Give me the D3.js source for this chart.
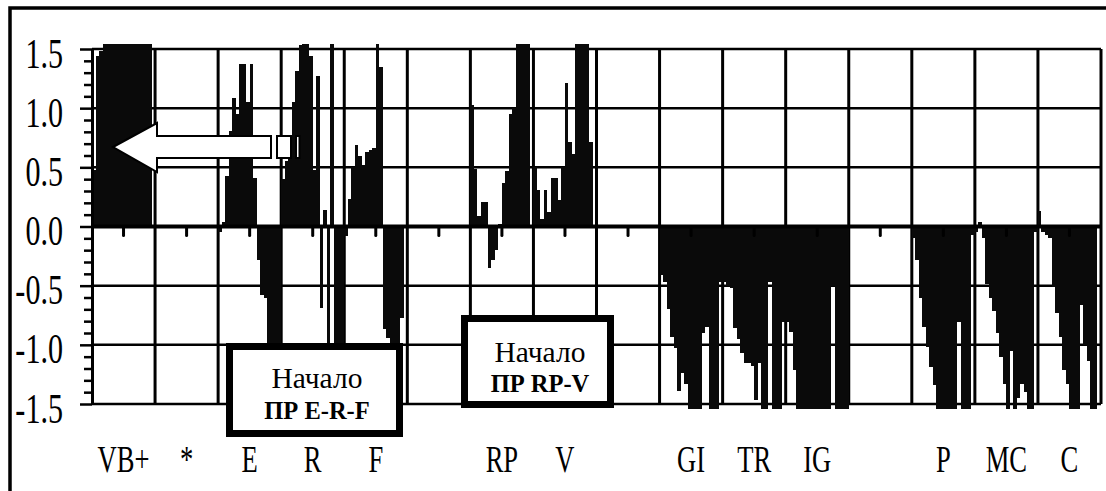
<!DOCTYPE html>
<html><head><meta charset="utf-8">
<script src="https://cdn.jsdelivr.net/npm/d3@7"></script>
<style>html,body{margin:0;padding:0;background:#fff;}svg{display:block;}
svg text{font-family:"Liberation Serif","Times New Roman",Times,serif;}</style>
</head><body>
<svg id="chart" width="1106" height="491"></svg>
<script>
// ---- data ----
const categories = ["VB+", "*", "E", "R", "F", "", "RP", "V", "", "GI", "TR", "IG", "", "P", "MC", "C"];
const yTickValues = [1.5, 1.0, 0.5, 0.0, -0.5, -1.0, -1.5];
const vbPlus = [0.48, 1.44, 1.48, 1.55, 1.55, 1.55, 1.55, 1.55, 1.55, 1.55, 1.55, 1.55, 1.55, 1.55, 1.55, 1.55, 1.55, 0];
const star   = [0, 0, 0, 0, 0, 0, 0, 0, 0, 0, 0, 0, 0, 0, 0, 0, 0, 0];
const E      = [-0.05, 0.04, 0.43, 0.81, 1.09, 0.95, 1.37, 1.37, 1.05, 1.37, 0.41, -0.28, -0.58, -0.6, -1.1, -1.55, -1.55, -1.3];
const R      = [0.4, 0.55, 0.6, 1.05, 1.31, 1.53, 1.55, 1.55, 1.44, 0.48, 1.27, -0.69, 0.14, -1.55, 1.55, -1.55, -1.2, -1.55];
const F      = [-0.08, 0.23, 0.5, 0.69, 0.6, 0.52, 0.63, 0.65, 0.66, 1.55, 1.35, -0.87, -0.94, -1.2, -1.3, -1.1, -0.77, 0];
const gapA   = [0, 0, 0, 0, 0, 0, 0, 0, 0, 0, 0, 0, 0, 0, 0, 0, 0, 0];
const RP     = [1.03, 0.49, 0.09, 0.21, 0.21, -0.35, -0.28, -0.2, 0.02, 0.37, 0.47, 0.95, 1.0, 1.55, 1.55, 1.55, 1.55, 0];
const V      = [0.5, 0.31, 0.06, 0.31, 0.12, 0.41, 0.41, 0.22, 0.5, 1.21, 0.71, 0.61, 1.55, 1.55, 1.55, 1.55, 0.71, 0];
const gapB   = [0, 0, 0, 0, 0, 0, 0, 0, 0, 0, 0, 0, 0, 0, 0, 0, 0, 0];
const GI     = [-0.41, -0.47, -0.7, -0.93, -1.03, -1.39, -1.24, -1.33, -1.55, -1.55, -1.55, -1.55, -0.9, -0.85, -1.55, -1.55, -1.55, -0.47];
const TR     = [-0.47, -0.5, -0.52, -0.86, -0.95, -1.07, -1.15, -1.15, -1.18, -1.47, -1.15, -1.55, -1.55, -0.47, -1.55, -1.55, -1.55, -0.81];
const IG     = [-0.81, -0.89, -1.21, -1.55, -1.55, -1.55, -1.55, -1.55, -1.55, -1.55, -1.55, -1.55, -1.55, -0.5, -1.55, -1.55, -1.55, -1.55];
const gapC   = [0, 0, 0, 0, 0, 0, 0, 0, 0, 0, 0, 0, 0, 0, 0, 0, 0, 0];
const P      = [-0.1, -0.28, -0.6, -0.85, -1.02, -1.19, -1.34, -1.55, -1.55, -1.55, -1.55, -1.55, -1.55, -0.81, -1.55, -1.55, -1.55, -0.07];
const MC     = [-0.05, 0.04, -0.1, -0.49, -0.6, -0.71, -0.9, -1.1, -1.33, -1.55, -1.05, -1.55, -1.45, -1.33, -1.4, -1.55, -1.55, -0.05];
const C      = [0.13, -0.05, -0.07, -0.1, -0.51, -0.73, -0.93, -1.21, -1.33, -1.55, -1.55, -1.55, -0.66, -1.0, -1.14, -1.55, -1.55, 0];
const seriesValues = [vbPlus, star, E, R, F, gapA, RP, V, gapB, GI, TR, IG, gapC, P, MC, C];

// ---- layout ----
const plot = {left: 92, right: 1101, top: 49, bottom: 404};
const serif = '"Liberation Serif","Times New Roman",Times,serif';
const squeeze = 0.7;
const svg = d3.select("#chart");

const x = d3.scaleBand().domain(d3.range(categories.length)).range([plot.left, plot.right]).padding(0);
const xi = d3.scaleBand().domain(d3.range(vbPlus.length)).range([0, x.bandwidth()]).padding(0);
const y = d3.scaleLinear().domain([-1.5, 1.5]).range([plot.bottom, plot.top]);
const clip = v => Math.max(-1.54, Math.min(1.54, v));

// outer frame
svg.append("path").attr("d", "M10,491V8H1106").attr("fill", "none").attr("stroke", "#000").attr("stroke-width", 3.5);

// horizontal grid
svg.append("g").selectAll("line").data(yTickValues).join("line")
  .attr("x1", plot.left).attr("x2", plot.right)
  .attr("y1", d => y(d)).attr("y2", d => y(d))
  .attr("stroke", "#000").attr("stroke-width", 2.5);

// vertical grid (category boundaries) + right border
svg.append("g").selectAll("line").data(d3.range(1, categories.length + 1)).join("line")
  .attr("x1", i => i < categories.length ? x(i) : plot.right)
  .attr("x2", i => i < categories.length ? x(i) : plot.right)
  .attr("y1", plot.top).attr("y2", plot.bottom)
  .attr("stroke", "#000").attr("stroke-width", 3);

// bars
const bars = [];
seriesValues.forEach((arr, c) => arr.forEach((v, i) => bars.push({c, i, v})));
svg.append("g").attr("shape-rendering", "crispEdges").selectAll("rect").data(bars.filter(b => b.v !== 0)).join("rect")
  .attr("x", b => x(b.c) + xi(b.i))
  .attr("width", xi.bandwidth())
  .attr("y", b => y(Math.max(0, clip(b.v))))
  .attr("height", b => Math.abs(y(clip(b.v)) - y(0)))
  .attr("fill", "#0a0a0a");

// zero line and category ticks
svg.append("line").attr("x1", plot.left).attr("x2", plot.right)
  .attr("y1", y(0)).attr("y2", y(0)).attr("stroke", "#000").attr("stroke-width", 4);
svg.append("g").selectAll("line").data(d3.range(categories.length)).join("line")
  .attr("x1", i => x(i) + x.bandwidth() / 2).attr("x2", i => x(i) + x.bandwidth() / 2)
  .attr("y1", y(0)).attr("y2", y(0) + 9)
  .attr("stroke", "#000").attr("stroke-width", 3).attr("stroke-linecap", "round");

// y axis
const minorTicks = d3.range(-15, 16).filter(k => k % 5 !== 0).map(k => k / 10);
const yMinor = svg.append("g").attr("transform", `translate(${plot.left},0)`)
  .call(d3.axisLeft(y).tickValues(minorTicks).tickSize(8).tickSizeOuter(0).tickFormat(""));
yMinor.select(".domain").remove();
yMinor.selectAll("line").attr("stroke", "#000").attr("stroke-width", 2.5);

const yAxis = svg.append("g").attr("transform", `translate(${plot.left},0)`)
  .call(d3.axisLeft(y).tickValues(yTickValues).tickSize(12).tickSizeOuter(0).tickFormat(d => d.toFixed(1)));
yAxis.attr("font-family", null).attr("font-size", null);
yAxis.select(".domain").attr("stroke", "#000").attr("stroke-width", 3);
yAxis.selectAll(".tick line").attr("stroke", "#000").attr("stroke-width", 2.5);
yAxis.selectAll(".tick text")
  .style("font-family", serif).style("font-size", "43px").attr("fill", "#000")
  .attr("text-anchor", "end")
  .attr("x", -29 / squeeze).attr("dy", null).attr("y", 18)
  .attr("transform", `scale(${squeeze},1)`);

// category labels
svg.append("g").selectAll("text").data(categories.map((t, i) => ({t, i})).filter(d => d.t)).join("text")
  .attr("x", d => (x(d.i) + x.bandwidth() / 2) / squeeze)
  .attr("y", 472)
  .attr("transform", `scale(${squeeze},1)`)
  .attr("text-anchor", "middle")
  .style("font-family", serif).style("font-size", "38px").attr("fill", "#000")
  .text(d => d.t);

// annotation boxes
const notes = [
  {x: 229.5, y: 346.5, w: 170, h: 87, cx: 317, l1: 388, l2: 419, t1: "Начало", t2: "ПР E-R-F"},
  {x: 464.5, y: 318.5, w: 146, h: 86, cx: 540, l1: 362, l2: 392, t1: "Начало", t2: "ПР RP-V"}
];
const ng = svg.append("g").selectAll("g").data(notes).join("g");
ng.append("rect").attr("x", d => d.x).attr("y", d => d.y).attr("width", d => d.w).attr("height", d => d.h)
  .attr("fill", "#fff").attr("stroke", "#000").attr("stroke-width", 7);
ng.append("text").attr("x", d => d.cx).attr("y", d => d.l1).attr("text-anchor", "middle")
  .style("font-family", serif).style("font-size", "29.5px").text(d => d.t1);
ng.append("text").attr("x", d => d.cx).attr("y", d => d.l2).attr("text-anchor", "middle")
  .style("font-family", serif).style("font-size", "24.5px").style("font-weight", "bold").text(d => d.t2);

// striped arrow pointing left
const arrowPts = [[113,147],[157,123],[157,136],[271,136],[271,158],[157,158],[157,172]];
svg.append("polygon").attr("points", arrowPts.map(p => p.join(",")).join(" "))
  .attr("fill", "#fff").attr("stroke", "#000").attr("stroke-width", 2).attr("stroke-linejoin", "miter");
svg.append("rect").attr("x", 277).attr("y", 136).attr("width", 14).attr("height", 22)
  .attr("fill", "#fff").attr("stroke", "#000").attr("stroke-width", 2);
svg.append("rect").attr("x", 296).attr("y", 136).attr("width", 3.5).attr("height", 22)
  .attr("fill", "#fff").attr("stroke", "#000").attr("stroke-width", 2);
</script>
</body></html>
